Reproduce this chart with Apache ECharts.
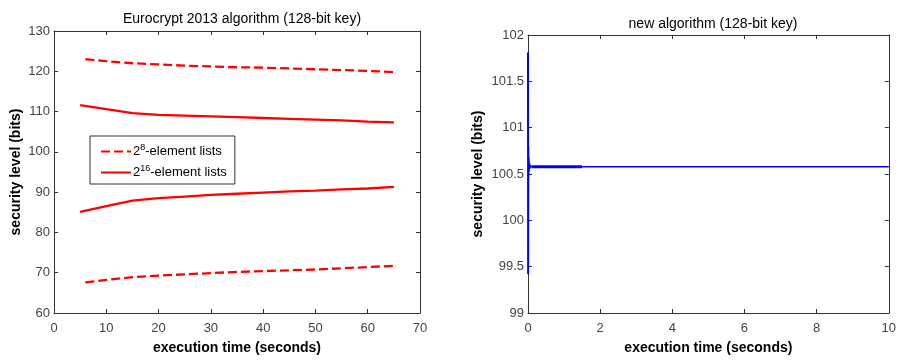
<!DOCTYPE html>
<html>
<head>
<meta charset="utf-8">
<script src="https://cdn.jsdelivr.net/npm/echarts@6/dist/echarts.min.js"></script>
<style>
  html, body { margin: 0; padding: 0; background: #fff; }
  #chart { width: 899px; height: 360px; }
</style>
</head>
<body>
<div id="chart"></div>
<script>
// Eurocrypt 2013 algorithm: upper and lower security bounds over execution time
const euroTime = [6, 10, 15, 20, 25, 30, 35, 40, 45, 50, 55, 60, 65];
const list8Upper = [123.0, 122.5, 122.0, 121.7, 121.4, 121.2, 121.0, 120.9, 120.7, 120.5, 120.3, 120.1, 119.8];
const list8Lower = [67.6, 68.2, 68.9, 69.3, 69.6, 69.9, 70.2, 70.4, 70.6, 70.8, 71.1, 71.4, 71.7];
const list16Time = [5, 10, 15, 20, 25, 30, 35, 40, 45, 50, 55, 60, 65];
const list16Upper = [111.6, 110.6, 109.6, 109.2, 109.0, 108.8, 108.6, 108.4, 108.2, 108.0, 107.8, 107.5, 107.3];
const list16Lower = [85.1, 86.5, 87.9, 88.5, 88.9, 89.3, 89.6, 89.9, 90.2, 90.4, 90.7, 90.9, 91.3];

// New algorithm: initial oscillation settling to a flat level
const newTimeEarly = [0.0, 0.004, 0.008, 0.012, 0.018, 0.025, 0.035, 0.05, 0.07, 0.1];
const newLevelEarly = [101.81, 99.42, 100.80, 100.47, 100.68, 100.53, 100.62, 100.56, 100.585, 100.575];
const newTimeDense = [0.1, 1.5];
const newLevelDense = [100.578, 100.578];
const newTimeTail = [1.5, 10];
const newLevelTail = [100.578, 100.578];

const leftXTicks = { min: 0, max: 70, interval: 10 };
const leftYTicks = { min: 60, max: 130, interval: 10 };
const rightXTicks = { min: 0, max: 10, interval: 2 };
const rightYTicks = { min: 99, max: 102, interval: 0.5 };

const titleLeft = 'Eurocrypt 2013 algorithm (128-bit key)';
const titleRight = 'new algorithm (128-bit key)';
const xName = 'execution time (seconds)';
const yName = 'security level (bits)';
const name8 = '2^8-element lists';
const name16 = '2^16-element lists';

function pairs(xs, ys) { return xs.map((x, i) => [x, ys[i]]); }

const FONT = '"Liberation Sans", Arial, sans-serif';
const RED = '#ff0000';
const BLUE = '#0000ff';

const grids = [
  { left: 54, top: 31, width: 366, height: 288 },
  { left: 528, top: 35, width: 364, height: 284 }
];

function mainX(grid, t) {
  return {
    type: 'value', gridIndex: grid, position: 'bottom',
    min: t.min, max: t.max, interval: t.interval,
    name: xName, nameLocation: 'middle', nameGap: 28,
    nameTextStyle: { fontFamily: FONT, fontSize: 14, fontWeight: 'bold', color: '#000' },
    axisLine: { show: true, onZero: false, lineStyle: { color: '#333', width: 1 } },
    axisTick: { show: true, inside: true, length: 4, lineStyle: { color: '#333' } },
    axisLabel: { fontFamily: FONT, fontSize: 13, color: '#444', margin: 9 },
    splitLine: { show: false }
  };
}
function mirrorX(grid, t) {
  return {
    type: 'value', gridIndex: grid, position: 'top',
    min: t.min, max: t.max, interval: t.interval,
    axisLine: { show: true, onZero: false, lineStyle: { color: '#333', width: 1 } },
    axisTick: { show: true, inside: true, length: 4, lineStyle: { color: '#333' } },
    axisLabel: { show: false }, splitLine: { show: false }
  };
}
function mainY(grid, t, gap) {
  return {
    type: 'value', gridIndex: grid, position: 'left',
    min: t.min, max: t.max, interval: t.interval,
    name: yName, nameLocation: 'middle', nameGap: gap, nameRotate: 90,
    nameTextStyle: { fontFamily: FONT, fontSize: 14, fontWeight: 'bold', color: '#000' },
    axisLine: { show: true, onZero: false, lineStyle: { color: '#333', width: 1 } },
    axisTick: { show: true, inside: true, length: 4, lineStyle: { color: '#333' } },
    axisLabel: { fontFamily: FONT, fontSize: 13, color: '#444', margin: 4 },
    splitLine: { show: false }
  };
}
function mirrorY(grid, t) {
  return {
    type: 'value', gridIndex: grid, position: 'right',
    min: t.min, max: t.max, interval: t.interval,
    axisLine: { show: true, onZero: false, lineStyle: { color: '#333', width: 1 } },
    axisTick: { show: true, inside: true, length: 4, lineStyle: { color: '#333' } },
    axisLabel: { show: false }, splitLine: { show: false }
  };
}

function redLine(name, data, dashed) {
  return {
    type: 'line', name: name, xAxisIndex: 0, yAxisIndex: 0,
    data: data, symbol: 'none', showSymbol: false, silent: true, animation: false,
    lineStyle: { color: RED, width: 2.3, type: dashed ? [9, 4] : 'solid' },
    itemStyle: { color: RED }
  };
}
function blueLine(data, width) {
  return {
    type: 'line', xAxisIndex: 2, yAxisIndex: 2,
    data: data, symbol: 'none', showSymbol: false, silent: true, animation: false,
    lineStyle: { color: BLUE, width: width },
    itemStyle: { color: BLUE }
  };
}

const chart = echarts.init(document.getElementById('chart'), null, { renderer: 'canvas' });
chart.setOption({
  backgroundColor: '#fff',
  animation: false,
  title: [
    { text: titleLeft, left: 237, top: 7, textAlign: 'center',
      textStyle: { fontFamily: FONT, fontSize: 14, fontWeight: 'normal', color: '#000' } },
    { text: titleRight, left: 708, top: 12, textAlign: 'center',
      textStyle: { fontFamily: FONT, fontSize: 14, fontWeight: 'normal', color: '#000' } }
  ],
  legend: {
    data: [name8, name16],
    left: 90, top: 136, orient: 'vertical',
    backgroundColor: '#fff', borderColor: '#333', borderWidth: 1, borderRadius: 0,
    padding: [7, 8, 5, 10], itemGap: 6, itemWidth: 30, itemHeight: 14,
    selectedMode: false,
    itemStyle: { opacity: 0 },
    formatter: function (n) {
      const p = n.split('^');
      const rest = p[1].split('-');
      return p[0] + '{sup|' + rest[0] + '}-' + rest.slice(1).join('-');
    },
    textStyle: {
      fontFamily: FONT, fontSize: 13, color: '#000', padding: [0, 0, 0, -3],
      rich: { sup: { fontFamily: FONT, fontSize: 9, color: '#000', padding: [0, 0, 8, 0] } }
    }
  },
  grid: grids,
  xAxis: [mainX(0, leftXTicks), mirrorX(0, leftXTicks), mainX(1, rightXTicks), mirrorX(1, rightXTicks)],
  yAxis: [mainY(0, leftYTicks, 31), mirrorY(0, leftYTicks), mainY(1, rightYTicks, 43), mirrorY(1, rightYTicks)],
  series: [
    redLine(name8, pairs(euroTime, list8Upper), true),
    redLine(name8, pairs(euroTime, list8Lower), true),
    redLine(name16, pairs(list16Time, list16Upper), false),
    redLine(name16, pairs(list16Time, list16Lower), false),
    blueLine(pairs(newTimeEarly, newLevelEarly), 2),
    blueLine(pairs(newTimeDense, newLevelDense), 3),
    blueLine(pairs(newTimeTail, newLevelTail), 1.5)
  ]
});
</script>
</body>
</html>
